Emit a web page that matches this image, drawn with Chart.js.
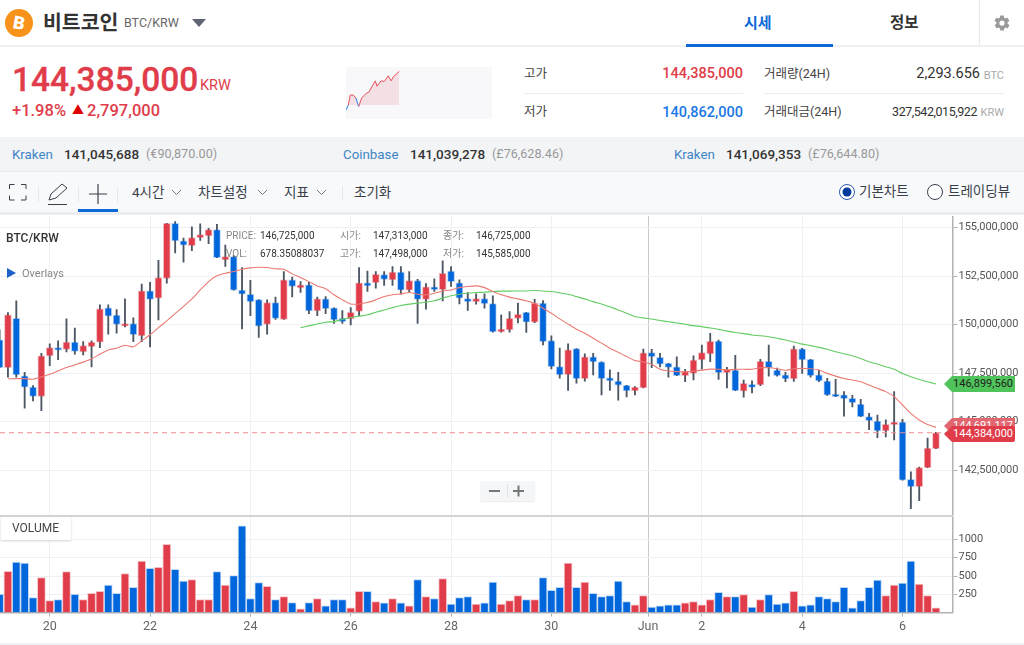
<!DOCTYPE html>
<html lang="ko"><head><meta charset="utf-8">
<script src="https://cdn.jsdelivr.net/npm/chart.js@4"></script>
<style>
html,body{margin:0;padding:0;background:#fff;overflow:hidden}
#app{position:relative;width:1024px;height:645px;overflow:hidden;font-family:Roboto,"Noto Sans CJK KR",sans-serif;color:#333}
.t{position:absolute;white-space:nowrap;line-height:1}
.box{position:absolute}
canvas{position:absolute;left:0}
.r{text-align:right}
.red{color:#e03c4a}.blu{color:#1a78e6}
.ex{color:#3d85c6;font-size:13.300px}.pr{color:#333;font-size:13.500px;font-weight:500}.gy{color:#999;font-size:12.600px}
.lg{font-size:10px;color:#333}.lk{font-size:10px;color:#888}
.tb{font-size:13.500px;color:#3a3f4a}
.tag{position:absolute;left:944px;width:71px;height:16px;color:#fff;font-size:11px;line-height:16px;text-align:right;clip-path:polygon(0 50%,8px 0,100% 0,100% 100%,8px 100%);box-sizing:border-box;padding-right:2px}
</style></head><body>
<div id="app">
<!-- header -->
<div class="box" style="left:0;top:45px;width:1024px;height:2px;background:#f0f0f2"></div>
<svg class="box" style="left:5px;top:9px" width="28" height="28" viewBox="0 0 28 28"><circle cx="14" cy="14" r="14" fill="#f7931a"/><text x="14" y="20" text-anchor="middle" font-family="Roboto" font-weight="900" font-size="18" fill="#fff" transform="rotate(10 14 14)">B</text></svg>
<div class="t" style="left:43px;top:11px;font-size:20.500px;font-weight:700;font-family:'Noto Sans CJK KR';color:#333">비트코인</div>
<div class="t" style="left:124px;top:17px;font-size:12.500px;color:#666">BTC/KRW</div>
<svg class="box" style="left:192px;top:19px" width="14" height="8"><path d="M0 0H14L7 8Z" fill="#5f6475"/></svg>
<div class="t" style="left:744px;top:14px;font-size:15px;font-weight:700;font-family:'Noto Sans CJK KR';color:#0b69d6">시세</div>
<div class="box" style="left:686px;top:44px;width:147px;height:3px;background:#0b69d6"></div>
<div class="t" style="left:890px;top:14px;font-size:15.500px;font-weight:700;font-family:'Noto Sans CJK KR';color:#333">정보</div>
<div class="box" style="left:979px;top:0;width:1px;height:45px;background:#e8e8ea"></div>
<svg class="box" style="left:993px;top:14px" width="18" height="18" viewBox="0 0 24 24"><path fill="#9a9a9a" d="M19.4 13c.1-.3.1-.7.1-1s0-.7-.1-1l2.1-1.6c.2-.2.2-.4.1-.6l-2-3.5c-.1-.2-.4-.3-.6-.2l-2.5 1c-.5-.4-1.100-.7-1.700-1l-.4-2.600c0-.2-.2-.4-.5-.4h-4c-.2 0-.5.2-.5.4l-.4 2.600c-.6.3-1.200.6-1.700 1l-2.500-1c-.2-.1-.5 0-.6.2l-2 3.500c-.1.2-.1.4.1.600L4.600 11c-.1.3-.1.7-.1 1s0 .7.1 1l-2.100 1.600c-.2.2-.2.4-.1.6l2 3.500c.1.2.4.3.6.2l2.500-1c.5.4 1.100.7 1.700 1l.4 2.600c0 .2.2.4.5.4h4c.2 0 .5-.2.5-.4l.4-2.600c.6-.3 1.200-.6 1.700-1l2.500 1c.2.1.5 0 .6-.2l2-3.500c.1-.2.1-.4-.1-.6zM12 15.500a3.500 3.500 0 1 1 0-7 3.500 3.500 0 0 1 0 7z"/></svg>
<!-- price -->
<div class="t red" style="left:12px;top:63px;font-size:33.500px;font-weight:500;-webkit-text-stroke:.3px #e03c4a">144,385,000</div>
<div class="t red" style="left:200px;top:79px;font-size:14.500px">KRW</div>
<div class="t red" style="left:12px;top:103px;font-size:16.500px;font-weight:500">+1.98%</div>
<div class="t" style="left:72px;top:105px;font-size:12px;color:#d00">▲</div>
<div class="t red" style="left:87px;top:103px;font-size:16.500px;font-weight:500">2,797,000</div>
<div class="box" style="left:346px;top:67px;width:146px;height:52px;background:#f8f8fa"></div>
<canvas id="spark" width="146" height="52" style="left:346px;top:67px"></canvas>
<div class="t" style="left:524px;top:68px;font-size:12.500px;color:#444">고가</div>
<div class="t red r" style="left:603px;width:140px;top:67px;font-size:14.500px;font-weight:500">144,385,000</div>
<div class="box" style="left:524px;top:93px;width:219px;height:1px;background:#ececee"></div>
<div class="t" style="left:524px;top:106px;font-size:12.500px;color:#444">저가</div>
<div class="t blu r" style="left:603px;width:140px;top:106px;font-size:14.500px;font-weight:500">140,862,000</div>
<div class="t" style="left:764px;top:68px;font-size:12.500px;color:#444">거래량(24H)</div>
<div class="t r" style="left:880px;width:100px;top:67px;font-size:14.500px;color:#333">2,293.656</div>
<div class="t r" style="left:960px;width:44px;top:70px;font-size:11px;color:#aaa">BTC</div>
<div class="box" style="left:764px;top:93px;width:240px;height:1px;background:#ececee"></div>
<div class="t" style="left:764px;top:106px;font-size:12.500px;color:#444">거래대금(24H)</div>
<div class="t r" style="left:860px;width:117px;top:106px;font-size:12.500px;letter-spacing:-.45px;color:#333">327,542,015,922</div>
<div class="t r" style="left:960px;width:44px;top:107px;font-size:11px;color:#aaa">KRW</div>
<!-- exchange strip -->
<div class="box" style="left:0;top:137px;width:1024px;height:35px;background:#f3f4f6;border-bottom:1px solid #e9eaec;box-sizing:border-box"></div>
<div class="t ex" style="left:12px;top:148px">Kraken</div><div class="t pr" style="left:64px;top:148px">141,045,688</div><div class="t gy" style="left:146px;top:148px">(€90,870.00)</div>
<div class="t ex" style="left:343px;top:148px">Coinbase</div><div class="t pr" style="left:410px;top:148px">141,039,278</div><div class="t gy" style="left:492px;top:148px">(£76,628.46)</div>
<div class="t ex" style="left:674px;top:148px">Kraken</div><div class="t pr" style="left:726px;top:148px">141,069,353</div><div class="t gy" style="left:808px;top:148px">(£76,644.80)</div>
<!-- toolbar -->
<div class="box" style="left:0;top:172px;width:1024px;height:40px;background:#f8f9fb"></div>
<div class="box" style="left:0;top:212px;width:1024px;height:3px;background:#ebedf2"></div>
<svg class="box" style="left:0;top:172px" width="130" height="40" fill="none" stroke="#3a3f4a"><path d="M9.500 17v-4.500h5M21 12.500h5V17M26 23.500v4.500h-5M14.500 28H9.500v-4.500"/><path d="M49 28l2-6 11-10 5 4-11 10z M48 32.500h19" stroke-width="1"/><path d="M98 12v20M89 22h18" stroke-width="1.200"/><path d="M38.500 15v15M78.500 15v15M117.500 15v15" stroke="#e6e7ea"/></svg>
<div class="box" style="left:78px;top:209px;width:40px;height:3px;background:#0b69d6"></div>
<div class="t tb" style="left:132px;top:186px">4시간</div>
<div class="t tb" style="left:198px;top:186px">차트설정</div>
<div class="t tb" style="left:284px;top:186px">지표</div>
<svg class="box" style="left:170px;top:189px" width="160" height="8" fill="none" stroke="#777"><path d="M2 1l4.500 4.500L11 1M88 1l4.500 4.500L97 1M147 1l4.500 4.500L156 1"/></svg>
<div class="box" style="left:342px;top:186px;width:1px;height:14px;background:#e6e7ea"></div>
<div class="t tb" style="left:354px;top:186px">초기화</div>
<svg class="box" style="left:838px;top:183px" width="18" height="18"><circle cx="9" cy="9" r="7.500" fill="#fff" stroke="#2a5db0"/><circle cx="9" cy="9" r="4.500" fill="#003a9b"/></svg>
<div class="t tb" style="left:859px;top:185px">기본차트</div>
<svg class="box" style="left:926px;top:183px" width="18" height="18"><circle cx="9" cy="9" r="7.500" fill="#fff" stroke="#39404d"/></svg>
<div class="t tb" style="left:948px;top:185px">트레이딩뷰</div>
<!-- charts -->
<canvas id="price" width="1024" height="300" style="top:216px"></canvas>
<canvas id="volume" width="1024" height="129" style="top:516px"></canvas>
<div class="box" style="left:0;top:515px;width:953px;height:1.500px;background:#d4d4d6"></div>
<div class="box" style="left:0;top:643px;width:1024px;height:2px;background:#eef1f5"></div>
<!-- chart overlays -->
<div class="t" style="left:6px;top:232px;font-size:12px;color:#333;font-weight:500">BTC/KRW</div>
<svg class="box" style="left:7px;top:268px" width="10" height="10"><path d="M0 0L9 5L0 10Z" fill="#1c62c8"/></svg>
<div class="t" style="left:22px;top:268px;font-size:11px;color:#888">Overlays</div>
<div class="t lk" style="left:226px;top:231px">PRICE:</div><div class="t lg" style="left:260px;top:231px">146,725,000</div>
<div class="t lk" style="left:226px;top:249px">VOL:</div><div class="t lg" style="left:260px;top:249px">678.35088037</div>
<div class="t lk" style="left:340px;top:231px">시가:</div><div class="t lg" style="left:373px;top:231px">147,313,000</div>
<div class="t lk" style="left:340px;top:249px">고가:</div><div class="t lg" style="left:373px;top:249px">147,498,000</div>
<div class="t lk" style="left:443px;top:231px">종가:</div><div class="t lg" style="left:476px;top:231px">146,725,000</div>
<div class="t lk" style="left:443px;top:249px">저가:</div><div class="t lg" style="left:476px;top:249px">145,585,000</div>
<div class="box" style="left:480px;top:481px;width:55px;height:20px;background:#f5f6f7;border-radius:2px;box-shadow:0 1px 1px rgba(0,0,0,.08)"></div>
<svg class="box" style="left:480px;top:481px" width="55" height="20"><path d="M9 10h11M33 10h11M38.500 4.500v11" stroke="#777" stroke-width="2"/><path d="M27.500 3v14" stroke="#e2e3e5"/></svg>
<div class="t" style="left:1px;top:517px;width:70px;height:23px;background:#fff;box-shadow:0 1px 2px rgba(0,0,0,.18);font-size:12px;line-height:23px;text-indent:11px;color:#444">VOLUME</div>
<div class="tag" style="top:376px;background:#4fc45a;color:#222">146,899,560</div>
<div class="tag" style="top:418px;background:#e2666f;">144,691,117</div>
<div class="tag" style="top:426px;height:16px;background:#e03c4a;border-radius:0 2px 2px 0">144,384,000</div>
</div>
<script>
// ---------- data (prices in millions of KRW, 4-hour candles) ----------
const opens=[149.22,147.79,150.33,147.36,146.78,146.30,148.39,148.82,148.72,149.10,148.60,148.87,149.10,150.87,150.49,149.92,150.06,149.42,151.74,151.37,152.38,155.23,154.32,154.08,154.49,154.58,154.90,153.34,153.51,151.78,151.57,151.30,150.01,151.14,150.27,152.31,151.90,152.05,150.71,151.33,150.87,150.33,150.30,150.68,152.16,152.16,152.58,152.31,152.71,151.78,152.28,151.30,151.95,151.81,152.76,152.16,151.35,151.19,151.35,151.09,149.63,149.73,150.33,150.64,150.13,151.12,149.18,147.84,147.43,148.77,147.22,148.34,148.08,147.26,147.10,146.88,146.59,146.74,148.56,148.32,148.01,147.83,147.37,147.49,148.18,148.50,149.16,147.53,147.66,146.58,146.92,146.89,148.11,147.66,147.42,147.20,148.75,148.21,147.41,147.10,146.43,146.39,146.20,145.91,145.26,145.03,144.52,144.85,144.98,142.03,141.65,142.63,143.61];
const highs=[149.73,150.63,151.23,147.55,146.86,148.53,149.01,149.17,150.30,149.82,149.13,149.17,151.02,151.02,150.78,151.33,150.35,152.09,152.19,153.32,155.23,155.32,154.46,155.04,155.20,154.97,155.18,154.11,153.56,152.95,152.29,151.30,151.28,151.43,152.74,152.46,152.22,152.19,151.43,151.45,150.87,150.73,150.88,152.95,152.77,152.74,152.74,153.00,153.00,152.74,152.34,152.12,152.36,153.29,153.00,152.31,151.66,151.59,151.59,151.49,150.51,150.68,151.11,150.64,151.31,151.24,149.42,148.79,149.01,148.77,148.50,148.53,148.08,147.67,147.55,146.88,146.81,148.74,148.73,148.52,148.01,148.35,147.70,148.40,148.95,149.55,149.21,147.80,148.42,147.15,147.11,148.21,148.95,147.77,147.54,148.90,148.78,148.21,147.66,147.23,147.18,146.55,146.36,146.15,145.43,145.34,145.09,146.55,145.12,142.42,142.66,144.16,144.45];
const lows=[147.79,147.29,147.29,145.70,146.07,145.57,147.89,148.20,148.60,148.48,148.44,147.83,148.82,149.51,149.56,149.89,149.13,149.13,148.86,150.25,152.14,153.70,153.22,153.82,154.34,154.18,153.46,153.00,151.78,149.78,150.47,149.34,149.51,150.27,150.27,151.43,151.66,150.57,150.47,150.57,150.06,150.06,149.99,150.47,151.71,151.88,152.02,152.02,151.57,151.67,150.06,150.80,151.71,151.23,151.97,151.07,150.73,151.06,150.85,149.61,149.61,149.61,150.09,149.60,150.11,148.96,147.72,147.24,146.61,146.98,147.09,147.41,146.38,146.61,146.11,146.28,146.38,146.74,147.78,147.83,147.29,147.37,147.06,147.15,147.71,148.09,147.18,146.74,146.60,146.27,146.48,146.86,147.35,147.35,147.06,147.08,147.49,147.29,147.06,146.36,146.29,145.29,145.76,145.26,144.59,144.18,144.21,144.06,141.98,140.52,140.93,142.63,143.61];
const closes=[147.79,150.51,147.41,146.78,146.30,148.39,148.82,148.69,149.10,148.62,148.93,149.10,150.82,150.44,150.01,150.06,149.48,151.74,151.30,152.43,155.23,154.32,154.10,154.49,154.65,154.90,153.46,153.51,151.78,151.57,151.19,149.92,151.14,150.33,152.31,151.97,152.05,150.71,151.33,150.82,150.25,150.16,150.64,152.16,152.00,152.60,152.33,152.71,151.78,152.28,151.30,151.95,151.81,152.65,152.22,151.37,151.19,151.35,151.09,149.63,149.78,150.33,150.54,150.13,151.12,149.13,147.84,147.41,148.70,147.22,148.34,148.08,147.22,147.10,146.88,146.59,146.78,148.55,148.35,147.96,147.80,147.37,147.58,148.18,148.56,149.14,147.53,147.70,146.60,146.98,146.77,148.11,147.78,147.37,147.20,148.76,148.18,147.37,147.10,146.37,146.29,146.19,145.98,145.26,145.05,144.52,144.86,144.98,141.98,141.65,142.63,143.64,144.43];
const redAverage=[null,147.21,147.22,147.22,147.19,147.31,147.45,147.62,147.79,147.93,148.07,148.24,148.48,148.70,148.79,148.94,148.86,149.17,149.48,149.85,150.20,150.57,150.94,151.33,151.79,152.22,152.52,152.65,152.74,152.86,152.93,152.96,152.95,152.88,152.86,152.62,152.43,152.22,152.00,151.85,151.54,151.28,151.07,151.07,151.14,151.28,151.45,151.54,151.59,151.66,151.57,151.54,151.62,151.74,151.79,151.91,151.97,152.00,151.91,151.71,151.54,151.42,151.33,151.23,151.09,150.85,150.59,150.30,150.03,149.77,149.56,149.30,149.05,148.79,148.58,148.36,148.15,148.08,147.96,147.70,147.61,147.58,147.58,147.61,147.66,147.71,147.70,147.66,147.70,147.70,147.70,147.78,147.78,147.73,147.65,147.73,147.75,147.73,147.66,147.49,147.35,147.23,147.15,147.06,146.89,146.72,146.55,146.29,145.86,145.43,145.09,144.86,144.71];
const greenAverage=[null,null,null,null,null,null,null,null,null,null,null,null,null,null,null,null,null,null,null,null,null,null,null,null,null,null,null,null,null,null,null,null,null,null,null,null,149.85,149.94,150.04,150.13,150.16,150.27,150.37,150.44,150.51,150.64,150.76,150.88,150.99,151.06,151.11,151.16,151.23,151.37,151.49,151.57,151.62,151.66,151.67,151.71,151.73,151.73,151.74,151.74,151.76,151.74,151.71,151.64,151.57,151.45,151.33,151.19,151.07,150.92,150.76,150.59,150.42,150.35,150.29,150.22,150.15,150.09,150.02,149.95,149.90,149.83,149.76,149.67,149.60,149.54,149.47,149.43,149.38,149.30,149.21,149.11,149.00,148.92,148.83,148.73,148.61,148.50,148.40,148.26,148.09,147.97,147.83,147.70,147.49,147.32,147.18,147.06,146.94];
const volumes=[250,564,691,677,205,477,164,177,559,250,177,264,291,377,264,532,345,705,605,618,932,591,432,450,177,177,559,377,505,1186,191,409,359,177,218,136,50,136,191,91,177,177,64,291,291,150,132,191,132,91,450,218,191,464,118,205,218,118,132,418,118,164,232,177,177,477,305,345,677,345,418,264,218,232,432,150,105,232,77,91,105,105,132,150,105,177,277,218,218,245,77,177,245,118,132,291,91,105,218,191,150,345,64,164,345,445,232,377,405,705,391,232,64];
const lastClose=144.43;
const xTickValues=[6,18,30,42,54,66,77.56,84,96,108];
const xTickLabels=["20","22","24","26","28","30","Jun","2","4","6"];
const priceTickValues=[142.5,145,147.5,150,152.5,155];
const priceTickLabels=["142,500,000","145,000,000","147,500,000","150,000,000","152,500,000","155,000,000"];
const volumeTickValues=[250,500,750,1000];
const volumeTickLabels=["250","500","750","1000"];
const sparkHours=[0,.38,.71,1.2,1.64,2.08,2.58,3.29,3.73,4.82,5.1,5.75,6.3,6.96,7.4,7.84,8.77];
const sparkPrices=[140.86,141.33,142.23,142.23,141.96,141.19,141.96,142.37,142.48,143.52,143.03,143.52,143.47,143.99,143.52,143.93,144.385];
const sparkBase=141.33;
// ---------- helpers ----------
const RED='#e03c4a',BLUE='#0066dc',RED_H='rgba(224,60,74,.35)',BLUE_H='rgba(0,102,220,.3)';
const idx=opens.map((_,i)=>i);
const up=idx.map(i=>closes[i]>=opens[i]);
const X_MIN=0.05,X_MAX=113.98,AXIS_W=71.5;
const xAxis=(showLabels)=>({type:'linear',min:X_MIN,max:X_MAX,offset:false,
  afterBuildTicks:s=>{s.ticks=xTickValues.map(v=>({value:v}))},
  afterFit:s=>{s.height=showLabels?32.4:0;s.paddingLeft=0;s.paddingRight=0},
  border:{display:showLabels,color:'#b2b2b4',width:1.500},
  grid:{offset:false,color:c=>c.index===6?'#c9c9cb':'#eff0f3',drawTicks:showLabels,tickColor:'#b2b2b4',tickLength:4},
  ticks:{display:showLabels,autoSkip:false,maxRotation:0,padding:3,color:'#666',font:{family:'Roboto',size:12.500},callback:(v,i)=>xTickLabels[i]}});
const yAxis=(vals,labs,min,max)=>({type:'linear',position:'right',min,max,
  afterBuildTicks:s=>{s.ticks=vals.map(v=>({value:v}))},
  afterFit:s=>{s.width=AXIS_W;s.paddingTop=0;s.paddingBottom=0},
  border:{color:'#b2b2b4',width:1.500},
  grid:{color:'#eff0f3',tickColor:'#b2b2b4',tickLength:5},
  ticks:{autoSkip:false,padding:1,color:'#555',font:{family:'Roboto',size:11},callback:(v,i)=>labs[i]}});
const base={responsive:false,animation:false,events:[],layout:{padding:0},plugins:{legend:{display:false},tooltip:{enabled:false}}};
// ---------- price chart ----------
new Chart(document.getElementById('price'),{type:'bar',data:{datasets:[
 {type:'line',order:0,data:[{x:X_MIN,y:lastClose},{x:X_MAX,y:lastClose}],borderColor:'#f08a92',borderWidth:1,borderDash:[5,4],pointRadius:0},
 {type:'line',order:1,data:idx.map(i=>({x:i,y:redAverage[i]})),borderColor:'#ea7a72',borderWidth:1.100,pointRadius:0,tension:.2,spanGaps:false},
 {type:'line',order:1,data:idx.map(i=>({x:i,y:greenAverage[i]})),borderColor:'#62cc62',borderWidth:1.100,pointRadius:0,tension:.2,spanGaps:false},
 {order:2,grouped:false,data:idx.map(i=>({x:i,y:[Math.min(opens[i],closes[i]),Math.max(opens[i],closes[i])]})),
  backgroundColor:idx.map(i=>up[i]?RED:BLUE),borderColor:idx.map(i=>up[i]?RED_H:BLUE_H),borderWidth:1,borderSkipped:false,barThickness:7},
 {order:3,grouped:false,data:idx.map(i=>({x:i,y:[lows[i],highs[i]]})),backgroundColor:'#4d5763',barThickness:1.200}
]},options:{...base,scales:{x:xAxis(false),y:yAxis(priceTickValues,priceTickLabels,140.139,155.603)}}});
// ---------- volume chart ----------
new Chart(document.getElementById('volume'),{type:'bar',data:{datasets:[
 {data:idx.map(i=>({x:i,y:volumes[i]})),backgroundColor:idx.map(i=>up[i]?RED:BLUE),borderColor:idx.map(i=>up[i]?'rgba(224,60,74,.3)':'rgba(0,102,220,.25)'),borderWidth:1,borderSkipped:false,barThickness:8}
]},options:{...base,scales:{x:xAxis(true),y:yAxis(volumeTickValues,volumeTickLabels,0,1320)}}});
// ---------- header sparkline ----------
new Chart(document.getElementById('spark'),{type:'line',data:{datasets:[{
  data:sparkHours.map((h,i)=>({x:h,y:sparkPrices[i]})),borderColor:'#e2505a',borderWidth:1,pointRadius:0,
  segment:{borderColor:c=>(c.p0.parsed.y<=sparkBase+.15&&c.p1.parsed.y<=sparkBase+.15)||c.p1.parsed.y<=sparkBase?'#2f80e0':'#e2505a'},
  fill:{target:{value:sparkBase},above:'rgba(224,60,74,.12)',below:'rgba(0,0,0,0)'}}]},
 options:{...base,scales:{x:{type:'linear',display:false,min:0,max:24},y:{display:false,min:140.06,max:144.78}}}});
</script>
</body></html>
